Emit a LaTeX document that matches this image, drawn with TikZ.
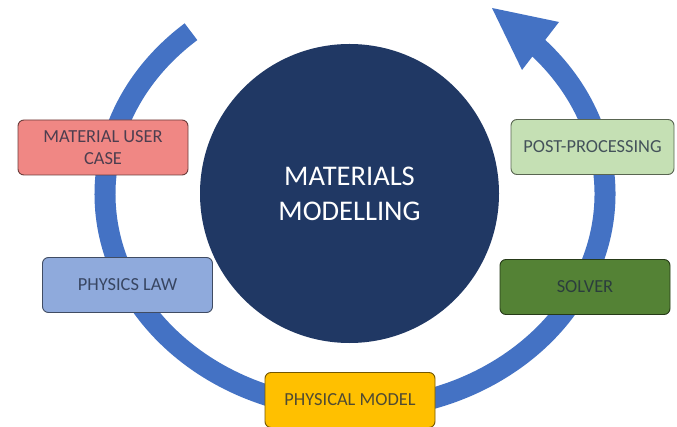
\documentclass[tikz,border=0pt]{standalone}
\usepackage{fontspec}
\setmainfont{Carlito}
\definecolor{ringblue}{HTML}{4472C4}
\definecolor{coreblue}{HTML}{203864}
\definecolor{navytext}{HTML}{1F2A40}
\definecolor{salmon}{HTML}{F08784}
\definecolor{lightgreen}{HTML}{C5E0B4}
\definecolor{lightblue}{HTML}{8FAADC}
\definecolor{leafgreen}{HTML}{548235}
\definecolor{gold}{HTML}{FFC000}
\begin{document}
\begin{tikzpicture}[x=1pt,y=1pt,
  stagebox/.style={draw=#1!45!black, fill=#1, text=#1!22!navytext,
    rounded corners=6pt, line width=0.9pt,
    minimum width=170pt, minimum height=55pt, inner sep=2pt,
    align=center, font=\fontsize{18.4}{22}\selectfont},
  corestyle/.style={circle, fill=coreblue, text=white, minimum size=299pt,
    align=center, font=\fontsize{28.5}{35}\selectfont}]
\useasboundingbox (0,0) rectangle (677,426);
\fill[white] (0,0) rectangle (677,426);
\clip (0,0) rectangle (677,426);

% cycle ring: elliptical arc with a triangular head
\draw[ringblue, line width=21pt]
  ({355+250*cos(131)}, {232+215*sin(131)})
  arc[start angle=131, end angle=404, x radius=250pt, y radius=215pt];
\fill[ringblue] (492,418) -- (559,404) -- (522,356) -- cycle;

% central topic
\node[corestyle] (core) at (349.5,232.5) {MATERIALS\\MODELLING};

% stages around the cycle
\node[stagebox=salmon]     (usercase)  at (103,278.5) {MATERIAL USER\\CASE};
\node[stagebox=lightblue]  (physlaw)   at (127.5,141) {PHYSICS LAW};
\node[stagebox=gold]       (physmodel) at (350,26)    {PHYSICAL MODEL};
\node[stagebox=leafgreen]  (solver)    at (585,139)   {SOLVER};
\node[stagebox=lightgreen, minimum width=163pt] (postproc) at (592.5,279) {POST-PROCESSING};
\end{tikzpicture}
\end{document}
